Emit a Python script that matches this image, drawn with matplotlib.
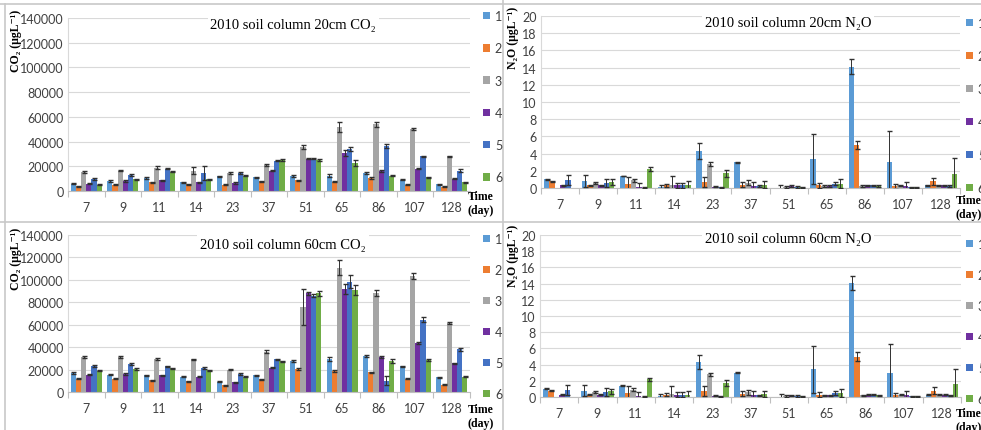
import numpy as np
import matplotlib
matplotlib.use("Agg")
import matplotlib.pyplot as plt
from matplotlib.patches import Patch
from matplotlib.lines import Line2D

days = ["7", "9", "11", "14", "23", "37", "51", "65", "86", "107", "128"]
series = ["1", "2", "3", "4", "5", "6"]
colors = ["#5B9BD5", "#ED7D31", "#A5A5A5", "#7030A0", "#4472C4", "#70AD47"]

# CO2 at 20 cm (ugL-1), one row per series
co2_20 = [
    [6000, 8000, 10500, 7000, 12000, 11000, 12000, 12500, 14500, 9000, 5500],
    [4000, 5000, 7000, 5500, 5000, 8000, 8500, 7500, 10500, 5000, 3500],
    [15000, 16500, 19000, 16500, 14500, 21000, 35500, 52000, 54000, 50000, 28000],
    [6000, 8000, 8500, 7000, 6500, 16500, 26000, 31000, 16500, 18000, 10000],
    [9500, 13000, 18000, 14500, 14500, 24500, 26000, 34000, 36500, 28000, 16500],
    [5000, 9500, 15500, 9500, 12500, 25000, 25000, 22500, 12500, 11000, 7000],
]
co2_20_err = [
    [500, 500, 500, 500, 500, 500, 600, 1000, 600, 500, 400],
    [400, 400, 400, 400, 400, 400, 400, 500, 500, 400, 300],
    [800, 500, 1200, 3000, 500, 800, 1500, 4000, 2000, 800, 500],
    [500, 500, 500, 500, 500, 500, 500, 2500, 800, 500, 500],
    [800, 500, 500, 5500, 500, 500, 500, 2000, 1500, 500, 1500],
    [500, 500, 500, 500, 500, 500, 1000, 2500, 500, 500, 500],
]

# CO2 at 60 cm
co2_60 = [
    [17000, 15500, 15000, 13500, 9000, 15000, 27500, 29500, 32000, 23000, 13000],
    [12000, 12000, 10500, 9500, 6000, 11500, 20500, 19000, 17500, 12000, 6500],
    [31000, 31500, 29500, 29000, 20000, 36000, 75500, 111000, 88500, 103500, 61500],
    [15500, 16000, 15000, 13500, 8500, 21500, 88000, 92000, 31000, 43500, 25500],
    [23000, 25000, 23000, 21500, 16000, 29000, 86000, 98500, 10000, 64500, 38000],
    [19000, 20500, 21000, 19500, 13500, 27500, 88000, 91000, 27500, 28500, 13500],
]
co2_60_err = [
    [600, 500, 600, 500, 500, 500, 800, 1500, 1000, 500, 500],
    [400, 400, 400, 400, 400, 400, 500, 1000, 500, 400, 300],
    [800, 800, 800, 800, 500, 1200, 16000, 7000, 2500, 2500, 800],
    [500, 500, 500, 500, 500, 500, 1500, 4500, 800, 800, 500],
    [800, 800, 600, 800, 500, 600, 1500, 5500, 4000, 2500, 1200],
    [600, 500, 500, 500, 500, 500, 2500, 4500, 1500, 1000, 500],
]

# N2O (ugL-1); the 20 cm and 60 cm panels show the same bars
n2o_20 = [
    [1.0, 0.8, 1.4, 0.1, 4.3, 3.0, 0.0, 3.4, 14.1, 3.0, 0.3],
    [0.8, 0.3, 0.5, 0.3, 0.7, 0.4, 0.05, 0.3, 5.0, 0.2, 0.8],
    [0.0, 0.6, 0.9, 0.4, 2.8, 0.6, 0.1, 0.2, 0.2, 0.3, 0.3],
    [0.3, 0.3, 0.1, 0.3, 0.15, 0.2, 0.2, 0.2, 0.3, 0.2, 0.3],
    [0.9, 0.6, 0.05, 0.3, 0.1, 0.2, 0.15, 0.5, 0.3, 0.1, 0.2],
    [0.0, 0.7, 2.2, 0.3, 1.7, 0.4, 0.1, 0.5, 0.2, 0.1, 1.6],
]
n2o_20_err = [
    [0.05, 0.7, 0.05, 0.3, 0.9, 0.05, 0.0, 2.9, 0.9, 3.6, 0.1],
    [0.05, 0.1, 0.8, 0.2, 0.6, 0.3, 0.3, 0.3, 0.5, 0.3, 0.4],
    [0.0, 0.1, 0.2, 1.0, 0.2, 0.3, 0.1, 0.1, 0.1, 0.1, 0.1],
    [0.05, 0.1, 0.5, 0.3, 0.05, 0.5, 0.1, 0.1, 0.1, 0.5, 0.1],
    [0.6, 0.5, 0.05, 0.3, 0.05, 0.1, 0.1, 0.2, 0.1, 0.05, 0.1],
    [0.0, 0.3, 0.2, 0.5, 0.4, 0.4, 0.05, 0.5, 0.1, 0.05, 1.9],
]
n2o_60 = n2o_20
n2o_60_err = n2o_20_err

SERIF = ["Liberation Serif", "DejaVu Serif"]
SANS = ["Lato", "DejaVu Sans"]
W, H = 981, 431


def fig_rect(x0, y0, x1, y1):
    # pixel box (top-left origin) -> figure fraction rect
    return [x0 / W, 1 - y1 / H, (x1 - x0) / W, (y1 - y0) / H]


def draw_panel(fig, rect, vals, errs, ymax, ystep, title, title_xy, ylabel,
               ylab_xy, leg_xy, leg_space, time_xy):
    ax = fig.add_axes(fig_rect(*rect))
    x = np.arange(len(days))
    bw = 0.142
    for i, (v, e) in enumerate(zip(vals, errs)):
        pos = x + (i - 2.5) * bw
        v = np.array(v, dtype=float)
        e = np.array(e, dtype=float)
        ax.bar(pos, v, bw, color=colors[i], zorder=2)
        m = (v > 0) | (e > 0)
        ax.errorbar(pos[m], v[m], yerr=e[m], fmt="none", ecolor="#303030",
                    elinewidth=0.7, capsize=1.8, capthick=1.0, zorder=3)
    ax.set_xlim(-0.5, len(days) - 0.5)
    ax.set_ylim(0, ymax)
    ax.set_yticks(np.arange(0, ymax + ystep / 2, ystep))
    ax.set_xticks(x)
    ax.set_xticklabels(days)
    ax.set_xticks(np.arange(-0.5, len(days), 1.0), minor=True)
    ax.tick_params(axis="x", which="major", length=0, pad=7)
    ax.tick_params(axis="x", which="minor", length=4, color="#bfbfbf", width=0.8)
    ax.tick_params(axis="y", length=0, pad=3)
    for lab in ax.get_xticklabels() + ax.get_yticklabels():
        lab.set_family(SANS)
        lab.set_fontsize(9)
        lab.set_color("#404040")
    ax.grid(axis="y", color="#d9d9d9", lw=0.8, zorder=0)
    ax.set_axisbelow(True)
    for s in ["top", "right"]:
        ax.spines[s].set_visible(False)
    ax.spines["left"].set_color("#d9d9d9")
    ax.spines["bottom"].set_color("#bfbfbf")
    ax.spines["left"].set_linewidth(0.8)
    ax.spines["bottom"].set_linewidth(0.8)
    ax.text(title_xy[0], title_xy[1], title, transform=ax.transAxes,
            ha="center", va="center", family=SERIF, fontsize=10.5,
            bbox=dict(facecolor="white", edgecolor="none", pad=2), zorder=5)
    fig.text(ylab_xy[0] / W, 1 - ylab_xy[1] / H, ylabel,
             rotation=90, ha="center", va="center", family=SERIF,
             fontsize=8.5, fontweight="bold")
    fig.text(time_xy[0] / W, 1 - time_xy[1] / H, "Time\n(day)", ha="center",
             va="center", family=SERIF, fontsize=8.5, fontweight="bold",
             linespacing=1.2)
    handles = [Patch(facecolor=c, edgecolor="none") for c in colors]
    leg = fig.legend(handles, series, loc="upper left",
                     bbox_to_anchor=(leg_xy[0] / W, 1 - leg_xy[1] / H),
                     frameon=False, borderpad=0, borderaxespad=0,
                     handlelength=0.55, handleheight=0.55, handletextpad=0.4,
                     labelspacing=leg_space, prop=dict(family=SANS, size=9))
    for t in leg.get_texts():
        t.set_color("#404040")
    return ax


fig = plt.figure(figsize=(W / 100, H / 100), dpi=100)

draw_panel(fig, (68, 19, 470, 192), co2_20, co2_20_err, 140000, 20000,
           "2010 soil column 20cm CO\u2082", (0.56, 0.965),
           "CO\u2082 (\u03bcgL\u207b\u00b9)", (16, 41), (483, 11), 1.62, (481, 204))
draw_panel(fig, (541, 17, 960, 189), n2o_20, n2o_20_err, 20, 2,
           "2010 soil column 20cm N\u2082O", (0.59, 0.965),
           "N\u2082O (\u03bcgL\u207b\u00b9)", (513, 38), (966, 18), 1.68, (969, 208))
draw_panel(fig, (68, 236, 470, 393), co2_60, co2_60_err, 140000, 20000,
           "2010 soil column 60cm CO\u2082", (0.535, 0.94),
           "CO\u2082 (\u03bcgL\u207b\u00b9)", (16, 259), (483, 234), 1.52, (481, 417))
draw_panel(fig, (540, 236, 961, 398), n2o_60, n2o_60_err, 20, 2,
           "2010 soil column 60cm N\u2082O", (0.59, 0.98),
           "N\u2082O (\u03bcgL\u207b\u00b9)", (513, 256), (966, 239), 1.52, (969, 421))

# panel frames
frame = "#c8c8c8"
for (x0, y0, x1, y1) in [(0, 5, W, 5), (0, 223, W, 223), (503, 0, 503, H),
                         (5, 5, 5, H)]:
    fig.add_artist(Line2D([x0 / W, x1 / W], [1 - y0 / H, 1 - y1 / H],
                          color=frame, lw=1.2))

fig.savefig("out.png", dpi=100)
